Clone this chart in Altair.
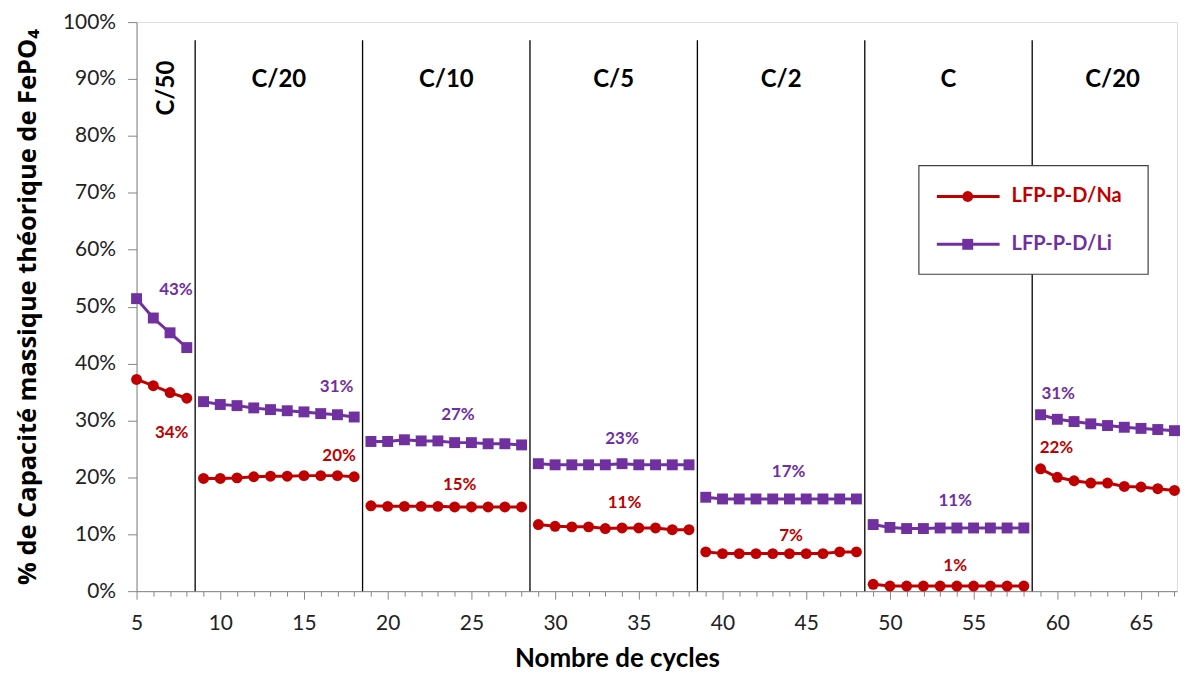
import altair as alt
import pandas as pd

# ---------------- data ----------------
series_names = ["LFP-P-D/Na", "LFP-P-D/Li"]
series_colors = ["#C00000", "#7030A0"]

cycles = list(range(5, 68))
segment_ids = [0] * 4 + [1] * 10 + [2] * 10 + [3] * 10 + [4] * 10 + [5] * 10 + [6] * 9

na_values = [37.2, 36.1, 34.9, 33.9,
             19.8, 19.8, 19.9, 20.1, 20.2, 20.2, 20.3, 20.3, 20.3, 20.1,
             15.0, 14.9, 14.9, 14.9, 14.9, 14.8, 14.8, 14.8, 14.8, 14.8,
             11.7, 11.4, 11.3, 11.3, 11.0, 11.1, 11.1, 11.1, 10.8, 10.8,
             6.9, 6.6, 6.6, 6.6, 6.6, 6.6, 6.6, 6.6, 6.9, 6.9,
             1.2, 0.9, 0.9, 0.9, 0.9, 0.9, 0.9, 0.9, 0.9, 0.9,
             21.5, 20.0, 19.4, 19.0, 19.0, 18.4, 18.3, 18.0, 17.7]

li_values = [51.4, 48.0, 45.4, 42.8,
             33.3, 32.8, 32.6, 32.2, 31.9, 31.7, 31.5, 31.2, 31.0, 30.6,
             26.3, 26.3, 26.6, 26.4, 26.4, 26.1, 26.1, 25.9, 25.9, 25.7,
             22.4, 22.2, 22.2, 22.2, 22.2, 22.4, 22.2, 22.2, 22.2, 22.2,
             16.5, 16.2, 16.2, 16.2, 16.2, 16.2, 16.2, 16.2, 16.2, 16.2,
             11.7, 11.2, 11.0, 11.0, 11.1, 11.1, 11.1, 11.1, 11.1, 11.1,
             31.0, 30.2, 29.8, 29.4, 29.1, 28.8, 28.6, 28.4, 28.2]

# x axis ticks / labels
x_tick_values = list(range(5, 68))
x_label_step = 5

# segment separators and rate labels
boundaries = [8.5, 18.5, 28.5, 38.5, 48.5, 58.5]
boundary_top = 96.8
rate_labels = ["C/50", "C/20", "C/10", "C/5", "C/2", "C", "C/20"]
rate_x = [6.8, 13.5, 23.5, 33.5, 43.5, 53.5, 63.3]
rate_y = [88.4, 89.8, 89.8, 89.8, 89.8, 89.8, 89.8]
rate_angle = [270, 0, 0, 0, 0, 0, 0]

# value annotations
ann_text = ["43%", "34%", "31%", "20%", "27%", "15%", "23%", "11%",
            "17%", "7%", "11%", "1%", "31%", "22%"]
ann_x = [7.35, 7.1, 16.95, 17.1, 24.2, 24.3, 34.0, 34.15,
         43.95, 44.1, 53.9, 53.9, 60.05, 59.95]
ann_y = [53.0, 27.8, 35.9, 23.8, 31.0, 18.7, 26.8, 15.5,
         21.0, 9.6, 15.8, 4.4, 34.6, 25.2]
ann_series = ["LFP-P-D/Li", "LFP-P-D/Na", "LFP-P-D/Li", "LFP-P-D/Na",
              "LFP-P-D/Li", "LFP-P-D/Na", "LFP-P-D/Li", "LFP-P-D/Na",
              "LFP-P-D/Li", "LFP-P-D/Na", "LFP-P-D/Li", "LFP-P-D/Na",
              "LFP-P-D/Li", "LFP-P-D/Na"]

# ---------------- tables ----------------
df = pd.concat([
    pd.DataFrame({"cycle": cycles, "value": na_values, "series": series_names[0],
                  "segment": [f"na{s}" for s in segment_ids]}),
    pd.DataFrame({"cycle": cycles, "value": li_values, "series": series_names[1],
                  "segment": [f"li{s}" for s in segment_ids]}),
], ignore_index=True)

sep_df = pd.DataFrame({"x": boundaries, "top": boundary_top, "bottom": 0})
rate_df = pd.DataFrame({"x": rate_x, "y": rate_y, "label": rate_labels, "angle": rate_angle})
ann_df = pd.DataFrame({"x": ann_x, "y": ann_y, "label": ann_text, "series": ann_series})
leg_df = pd.DataFrame({"series": series_names, "row": [0, 1]})

FONT = "Lato"
x_scale = alt.Scale(domain=[5, 67.15], nice=False, zero=False)
y_scale = alt.Scale(domain=[0, 100], nice=False)
color_scale = alt.Scale(domain=series_names, range=series_colors)
shape_scale = alt.Scale(domain=series_names, range=["circle", "square"])

x_axis = alt.Axis(
    values=x_tick_values,
    labelExpr=f"datum.value % {x_label_step} == 0 ? datum.value : ''",
    labelOverlap=False,
    title="Nombre de cycles", grid=False,
    tickSize={"condition": {"test": f"datum.value % {x_label_step} == 0", "value": 8}, "value": 5},
    labelFont=FONT, labelFontSize=21, labelColor="#222222",
    labelPadding=13, titleFont=FONT, titleFontSize=26, titleFontWeight="bold",
    titleColor="#000000", titlePadding=13, titleX=482, titleAlign="center",
    domainColor="#868686", tickColor="#868686", labelFlush=False,
)
y_axis = alt.Axis(
    values=list(range(0, 101, 10)), labelExpr="datum.value + '%'",
    title="% de Capacité massique théorique de FePO₄", grid=False, tickSize=9,
    labelFont=FONT, labelFontSize=21, labelColor="#222222", labelPadding=12,
    titleFont="Open Sans", titleFontSize=25.5, titleFontWeight="bold", titleColor="#000000",
    titlePadding=22, domainColor="#868686", tickColor="#868686",
)


def xq(field):
    return alt.X(field, type="quantitative", scale=x_scale, axis=x_axis)


def yq(field):
    return alt.Y(field, type="quantitative", scale=y_scale, axis=y_axis)


base = alt.Chart(df)
lines = base.mark_line(strokeWidth=3).encode(
    x=xq("cycle"), y=yq("value"),
    color=alt.Color("series:N", scale=color_scale, legend=None),
    detail="segment:N",
)
points = base.mark_point(filled=True, size=120, opacity=1).encode(
    x=xq("cycle"), y=yq("value"),
    color=alt.Color("series:N", scale=color_scale, legend=None),
    shape=alt.Shape("series:N", scale=shape_scale, legend=None),
)

seps = alt.Chart(sep_df).mark_rule(color="#000000", strokeWidth=1.3).encode(
    x=xq("x"), y=yq("top"), y2="bottom:Q"
)

rates = alt.Chart(rate_df).mark_text(
    font=FONT, fontSize=24, fontWeight="bold", color="#000000"
).encode(
    x=xq("x"), y=yq("y"),
    text="label:N", angle=alt.Angle("angle:Q", scale=None),
)

anns = alt.Chart(ann_df).mark_text(font=FONT, fontSize=17, fontWeight="bold").encode(
    x=xq("x"), y=yq("y"),
    text="label:N", color=alt.Color("series:N", scale=color_scale, legend=None),
)

# ---------------- manual legend ----------------
leg_box = alt.Chart(leg_df).mark_rect(
    fill="white", stroke="#404040", strokeWidth=1.2
).encode(
    x=alt.value(785), x2=alt.value(1015), y=alt.value(144), y2=alt.value(253)
).transform_filter("datum.row == 0")

leg_y = alt.Y("row:Q", scale=alt.Scale(domain=[0, 1], range=[175, 223]), axis=None)
leg_line = alt.Chart(leg_df).mark_rule(strokeWidth=3).encode(
    x=alt.value(803), x2=alt.value(866), y=leg_y,
    color=alt.Color("series:N", scale=color_scale, legend=None),
)
leg_pt = alt.Chart(leg_df).mark_point(filled=True, size=120, opacity=1).encode(
    x=alt.value(834), y=leg_y,
    color=alt.Color("series:N", scale=color_scale, legend=None),
    shape=alt.Shape("series:N", scale=shape_scale, legend=None),
)
leg_txt = alt.Chart(leg_df).mark_text(
    font=FONT, fontSize=20, fontWeight="bold", align="left"
).encode(
    x=alt.value(878), y=leg_y, text="series:N",
    color=alt.Color("series:N", scale=color_scale, legend=None),
)
legend = alt.layer(leg_box, leg_line, leg_pt, leg_txt).resolve_scale(y="independent")

main = alt.layer(seps, lines, points, rates, anns)

chart = alt.layer(main, legend).resolve_scale(y="independent").properties(
    width=1044, height=571,
    padding={"left": 7, "top": 2, "right": 0, "bottom": 0},
).configure_view(stroke=None).configure(background="white")

chart.save("out.html", embed_options={"renderer": "svg", "actions": False})
